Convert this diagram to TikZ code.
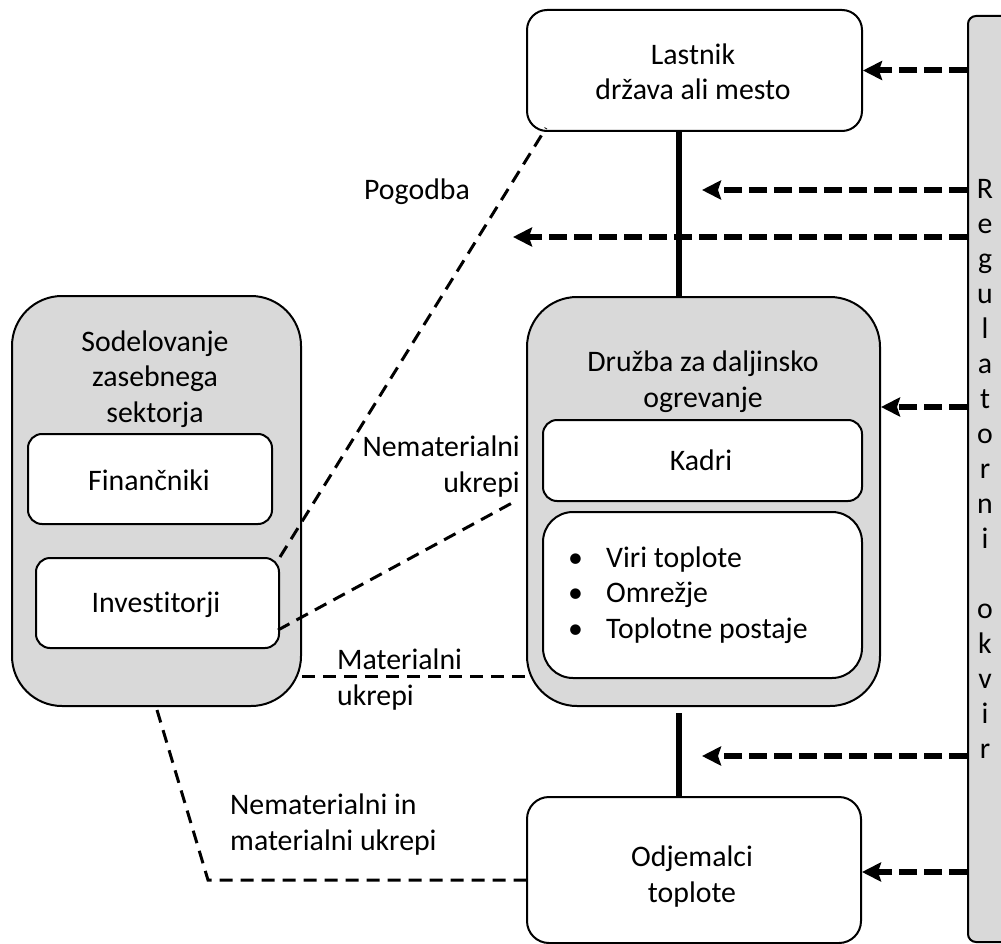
\documentclass[tikz,border=0pt]{standalone}
\usepackage{fontspec}
\setmainfont{Carlito}[Ligatures=NoCommon]
\usetikzlibrary{arrows.meta,calc}
\definecolor{boxgray}{HTML}{D9D9D9}
\newcommand\fs{\fontsize{29.8pt}{35.5pt}\selectfont}
\newcommand\fsbar{\fontsize{29.8pt}{35pt}\selectfont}
\tikzset{
  box/.style={draw=black, line width=2pt, fill=white, inner sep=0pt, anchor=north west},
  graybox/.style={box, fill=boxgray},
  txt/.style={font=\fs, inner sep=0pt, align=center, anchor=base},
  arr/.style={line width=6pt, dash pattern=on 18pt off 7pt,
    -{Stealth[length=19pt,width=19pt,inset=3pt]}},
  link/.style={line width=3pt, dash pattern=on 13pt off 8pt},
  trunk/.style={line width=6pt},
}
\begin{document}
\begin{tikzpicture}[x=1pt,y=-1pt]
\useasboundingbox (0,0) rectangle (1001,944);

% regulatory frame on the right (multi-line nodes are placed by their last baseline)
\node[graybox, rounded corners=8pt, minimum width=50pt, minimum height=926pt] (bar) at (967,15) {};
\node[txt, font=\fsbar] (regT) at (985,758) {R\\e\\g\\u\\l\\a\\t\\o\\r\\n\\i\\\mbox{}\\o\\k\\v\\i\\r};

% owner
\node[box, rounded corners=20pt, minimum width=335pt, minimum height=121pt] (lastnik) at (526,9) {};
\node[txt] (lastnikT) at (693,100) {Lastnik\\država ali mesto};

% private sector
\node[graybox, rounded corners=50pt, minimum width=289pt, minimum height=410pt] (sod) at (11,295) {};
\node[txt] (sodT) at (155,422) {Sodelovanje\\zasebnega\\sektorja};
\node[box, rounded corners=14pt, minimum width=244pt, minimum height=90pt] (fin) at (27,433) {};
\node[txt] (finT) at (149,490) {Finančniki};
\node[box, rounded corners=14pt, minimum width=243pt, minimum height=90pt] (inv) at (35,557) {};
\node[txt] (invT) at (156,612) {Investitorji};

% district heating company
\node[graybox, rounded corners=50pt, minimum width=353pt, minimum height=409pt] (druzba) at (526,296) {};
\node[txt] (druzbaT) at (703,407) {Družba za daljinsko\\ogrevanje};
\node[box, rounded corners=14pt, minimum width=319pt, minimum height=81pt] (kadri) at (542,419) {};
\node[txt] (kadriT) at (701,470) {Kadri};
\node[box, rounded corners=30pt, minimum width=319pt, minimum height=166pt] (infra) at (542,511) {};
\node[txt, align=left, anchor=base west] (infraT) at (568,638)
  {\makebox[38pt][l]{•}Viri toplote\\\makebox[38pt][l]{•}Omrežje\\\makebox[38pt][l]{•}Toplotne postaje};

% heat consumers
\node[box, rounded corners=22pt, minimum width=334pt, minimum height=146pt] (odj) at (526,796) {};
\node[txt] (odjT) at (692,902) {Odjemalci\\toplote};

% helper points
\coordinate (vx) at (679,0);
\coordinate (vlow) at (679,713);
\coordinate (a2) at (702,190);
\coordinate (a3) at (513,237);
\coordinate (a4) at (900,407);
\coordinate (a5) at (702,756);
\coordinate (a6) at (900,872);
\coordinate (nemEnd) at (512,503);
\coordinate (nemStart) at (278,630);
\coordinate (matY) at (0,676);
\coordinate (bend) at (208,880);
\coordinate (sodLow) at (157,710);
\coordinate (pogEnd) at (546,128);

% solid links along the supply chain
\draw[trunk] (lastnik.south -| vx) -- (druzba.north -| vx);
\draw[trunk] (vlow) -- (odj.north -| vlow);

% regulatory arrows
\draw[arr] (bar.west |- lastnik.east) -- (lastnik.east);
\draw[arr] (bar.west |- a2) -- (a2);
\draw[arr] (bar.west |- a3) -- (a3);
\draw[arr] (bar.west |- a4) -- (druzba.east |- a4);
\draw[arr] (bar.west |- a5) -- (a5);
\draw[arr] (bar.west |- a6) -- (odj.east |- a6);

% relations of the private sector
\draw[link] (inv.north east) -- (pogEnd);
\draw[link] (nemStart) -- (nemEnd);
\draw[link] (sod.east |- matY) -- (druzba.west |- matY);
\draw[link] (sodLow) -- (bend) -- (odj.west |- bend);

% relation labels
\node[txt] (pogT) at (417,200) {Pogodba};
\node[txt, align=right, anchor=base east] (nemT) at (520,492) {Nematerialni\\ukrepi};
\node[txt, align=left, anchor=base west] (matT) at (337,705) {Materialni\\ukrepi};
\node[txt, align=left, anchor=base west] (nemmatT) at (230,850) {Nematerialni in\\materialni ukrepi};
\end{tikzpicture}
\end{document}
